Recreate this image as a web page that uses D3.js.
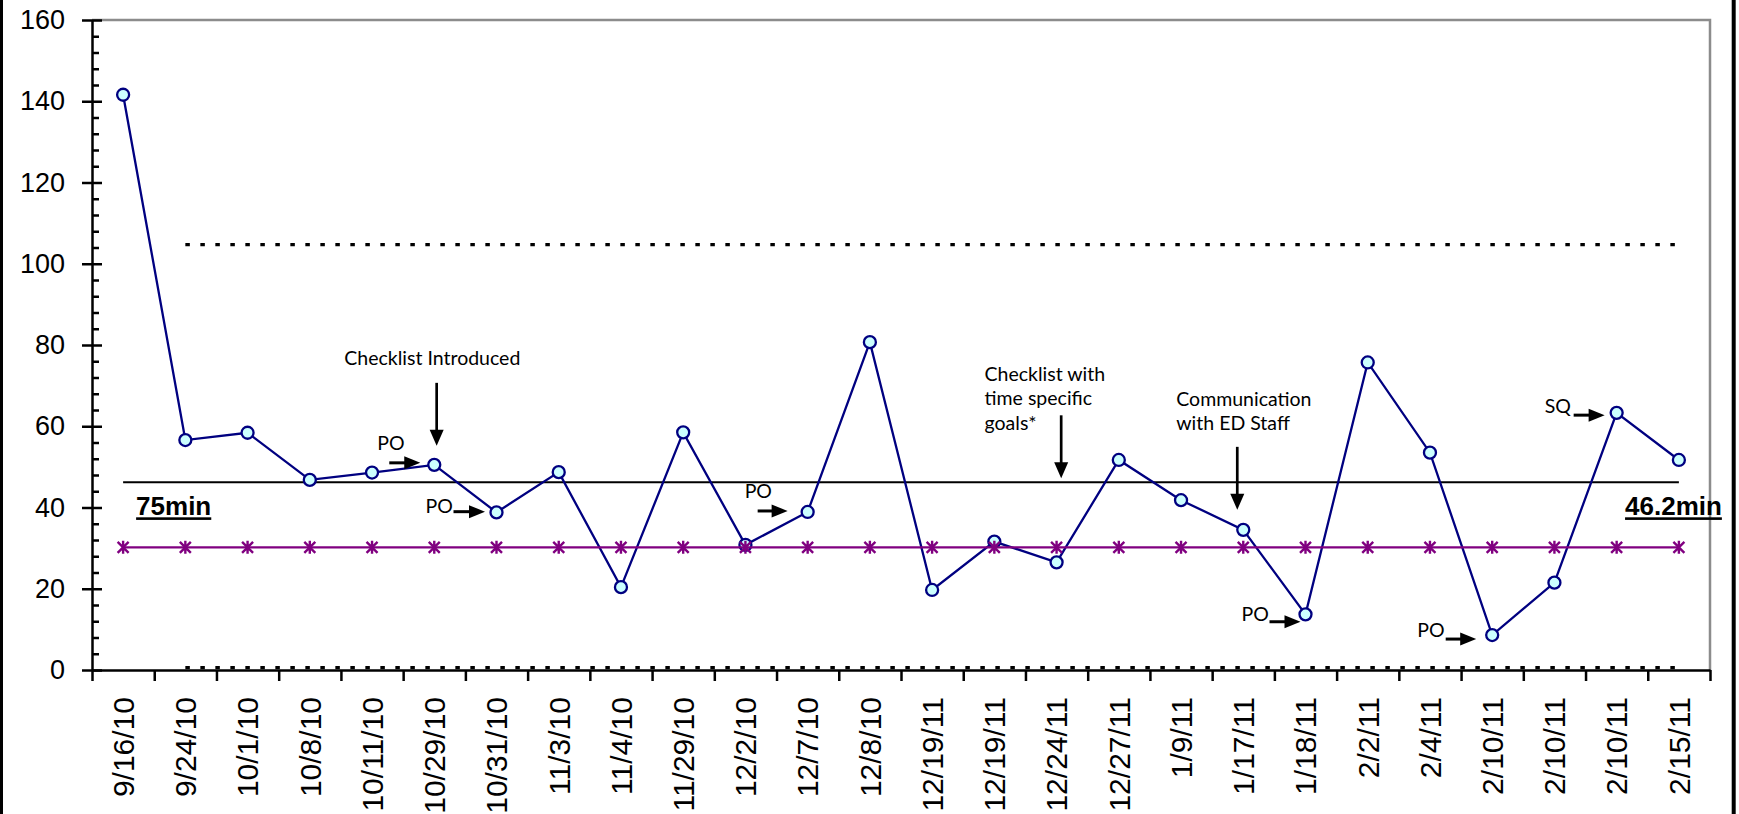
<!DOCTYPE html>
<html>
<head>
<meta charset="utf-8">
<script src="https://cdn.jsdelivr.net/npm/d3@7"></script>
<style>
  body { margin: 0; background: #fff; }
  svg { display: block; }
</style>
</head>
<body>
<svg id="chart" width="1739" height="814"></svg>
<script>
// Consult-to-response times (minutes) per case date
const dates = ["9/16/10","9/24/10","10/1/10","10/8/10","10/11/10","10/29/10","10/31/10","11/3/10","11/4/10",
  "11/29/10","12/2/10","12/7/10","12/8/10","12/19/11","12/19/11","12/24/11","12/27/11","1/9/11","1/17/11",
  "1/18/11","2/2/11","2/4/11","2/10/11","2/10/11","2/10/11","2/15/11"];
const minutes = [141.6,56.6,58.4,46.8,48.6,50.5,38.8,48.7,20.4,58.5,30.8,38.9,80.7,19.7,31.6,26.5,51.7,
  41.8,34.5,13.7,75.7,53.5,8.6,21.5,63.3,51.7];
const meanValue = 46.2;
const goalValue = 30.2;
const upperLimit = 104.7;
const lowerLimit = 0.6;
const yTicks = [0, 20, 40, 60, 80, 100, 120, 140, 160];
const yMinorTicks = d3.range(0, 161, 4).filter(v => v % 20 !== 0);
const meanLabels = ["75min", "46.2min"];

// Event notes with down arrows
const eventNotes = [
  { at: 5, ref: minutes[5], lines: ["Checklist Introduced"], tx: -90, ty: -100, ax: 2.4, ay1: -82, ay2: -19 },
  { at: 15, ref: meanValue, lines: ["Checklist with", "time specific", "goals*"], tx: -72, ty: -101.5, ax: 4.6, ay1: -67, ay2: -4 },
  { at: 18, ref: minutes[18], lines: ["Communication", "with ED Staff"], tx: -67, ty: -124, ax: -6, ay1: -83, ay2: -20 }
];
// Short tags with right arrows
const tagNotes = [
  { at: 5, label: "PO", tx: -57, ty: -15, a1: -45, a2: -14, ay: -2 },
  { at: 6, label: "PO", tx: -71, ty: 1, a1: -43, a2: -11.5, ay: -0.7 },
  { at: 11, label: "PO", tx: -63, ty: -14, a1: -50, a2: -20, ay: -1 },
  { at: 19, label: "PO", tx: -64, ty: 6.4, a1: -36, a2: -5, ay: 7.4 },
  { at: 22, label: "PO", tx: -75, ty: 2, a1: -46.5, a2: -16, ay: 4 },
  { at: 24, label: "SQ", tx: -72, ty: 0.6, a1: -43, a2: -12, ay: 2.3 }
];

const W = 1739, H = 814;
const plotLeft = 92, plotRight = 1710, plotTop = 20, plotBottom = 670;
const axisFont = "'Liberation Sans', Arial, sans-serif";
const noteFont = "Lato, 'Open Sans', sans-serif";

const svg = d3.select("#chart");

const x = d3.scaleBand().domain(d3.range(dates.length)).range([plotLeft, plotRight]);
const xEdge = d3.scaleLinear().domain([0, dates.length]).range([plotLeft, plotRight]);
const y = d3.scaleLinear().domain([0, 160]).range([plotBottom, plotTop]);
const cx = i => x(i) + x.bandwidth() / 2;

// outer frame edges
svg.append("line").attr("x1", 1.5).attr("x2", 1.5).attr("y1", 0).attr("y2", H)
  .attr("stroke", "#000").attr("stroke-width", 3);
svg.append("line").attr("x1", 1733.7).attr("x2", 1733.7).attr("y1", 0).attr("y2", H)
  .attr("stroke", "#000").attr("stroke-width", 4);

// plot area border (top and right)
svg.append("path")
  .attr("d", `M${plotLeft},${plotTop}H${plotRight}V${plotBottom}`)
  .attr("fill", "none").attr("stroke", "#8c8c8c").attr("stroke-width", 2.5);

// control limits
[upperLimit, lowerLimit].forEach(v => {
  svg.append("line")
    .attr("x1", cx(1)).attr("x2", cx(dates.length - 1))
    .attr("y1", y(v)).attr("y2", y(v))
    .attr("stroke", "#000").attr("stroke-width", 3.2)
    .attr("stroke-dasharray", "4.5 10.5");
});

// mean line
svg.append("line")
  .attr("x1", cx(0)).attr("x2", cx(dates.length - 1))
  .attr("y1", y(meanValue)).attr("y2", y(meanValue))
  .attr("stroke", "#000").attr("stroke-width", 2);

// response time series
const line = d3.line().x((d, i) => cx(i)).y(d => y(d));
svg.append("path").datum(minutes)
  .attr("d", line).attr("fill", "none")
  .attr("stroke", "#000080").attr("stroke-width", 2.3);
svg.append("g").selectAll("circle").data(minutes).join("circle")
  .attr("cx", (d, i) => cx(i)).attr("cy", d => y(d)).attr("r", 6)
  .attr("fill", "#ccffff").attr("stroke", "#000080").attr("stroke-width", 2.3);

// goal series with star markers
const goal = dates.map(() => goalValue);
svg.append("path").datum(goal)
  .attr("d", line).attr("fill", "none")
  .attr("stroke", "#800080").attr("stroke-width", 2.2);
svg.append("g").selectAll("path").data(goal).join("path")
  .attr("transform", (d, i) => `translate(${cx(i)},${y(d)})`)
  .attr("d", "M-5.5,-5.5L5.5,5.5M-5.5,5.5L5.5,-5.5M0,-6.5L0,6.5")
  .attr("stroke", "#800080").attr("stroke-width", 2.4).attr("fill", "none");

// y axis with crossing major ticks
const yAxis = svg.append("g").attr("transform", `translate(${plotLeft},0)`)
  .call(d3.axisLeft(y).tickValues(yTicks).tickSizeInner(10).tickSizeOuter(0).tickPadding(17));
yAxis.selectAll(".tick line").attr("x1", 10).attr("stroke-width", 2.5);
yAxis.select(".domain").attr("stroke-width", 2.5);
yAxis.selectAll("text").attr("font-family", axisFont).attr("font-size", 27).attr("fill", "#000");

// y minor ticks (inside)
svg.append("g").attr("transform", `translate(${plotLeft},0)`)
  .call(d3.axisRight(y).tickValues(yMinorTicks).tickSize(7).tickFormat(""))
  .call(g => g.select(".domain").remove())
  .selectAll(".tick line").attr("stroke-width", 2.5);

// x axis: ticks between categories
svg.append("g").attr("transform", `translate(0,${plotBottom})`)
  .call(d3.axisBottom(xEdge).tickValues(d3.range(0, dates.length + 1)).tickSize(11).tickSizeOuter(0).tickFormat(""))
  .call(g => g.select(".domain").attr("stroke-width", 2.5))
  .selectAll(".tick line").attr("stroke-width", 2.5);

// x labels, rotated
svg.append("g").attr("transform", `translate(0,${plotBottom})`)
  .call(d3.axisBottom(x).tickSize(0).tickFormat(i => dates[i]))
  .call(g => g.select(".domain").remove())
  .selectAll("text")
  .attr("transform", "rotate(-90)")
  .attr("x", -27).attr("y", 0).attr("dy", "0.36em")
  .attr("text-anchor", "end")
  .attr("font-family", axisFont).attr("font-size", 30).attr("fill", "#000");

// mean labels
svg.append("text")
  .attr("x", cx(0) + 13).attr("y", y(meanValue) + 33)
  .attr("font-family", axisFont).attr("font-size", 26).attr("font-weight", "bold")
  .attr("text-decoration", "underline").text(meanLabels[0]);
svg.append("text")
  .attr("x", cx(dates.length - 1) + 43).attr("y", y(meanValue) + 33)
  .attr("text-anchor", "end")
  .attr("font-family", axisFont).attr("font-size", 26).attr("font-weight", "bold")
  .attr("text-decoration", "underline").text(meanLabels[1]);

// arrow helpers
function arrowDown(g, x0, y1, y2) {
  g.append("line").attr("x1", x0).attr("x2", x0).attr("y1", y1).attr("y2", y2 - 14)
    .attr("stroke", "#000").attr("stroke-width", 2.7);
  g.append("path").attr("d", `M${x0 - 7},${y2 - 16}L${x0 + 7},${y2 - 16}L${x0},${y2}Z`).attr("fill", "#000");
}
function arrowRight(g, x1, x2, y0) {
  g.append("line").attr("x1", x1).attr("x2", x2 - 14).attr("y1", y0).attr("y2", y0)
    .attr("stroke", "#000").attr("stroke-width", 3);
  g.append("path").attr("d", `M${x2 - 16},${y0 - 6.5}L${x2 - 16},${y0 + 6.5}L${x2},${y0}Z`).attr("fill", "#000");
}

const notesG = svg.append("g");
eventNotes.forEach(n => {
  const px = cx(n.at), py = y(n.ref);
  const t = notesG.append("text").attr("font-family", noteFont).attr("font-size", 19.5).attr("fill", "#000");
  n.lines.forEach((s, k) => {
    t.append("tspan").attr("x", px + n.tx).attr("y", py + n.ty + k * 24.5).text(s);
  });
  arrowDown(notesG, px + n.ax, py + n.ay1, py + n.ay2);
});
tagNotes.forEach(n => {
  const px = cx(n.at), py = y(minutes[n.at]);
  notesG.append("text").attr("x", px + n.tx).attr("y", py + n.ty)
    .attr("font-family", noteFont).attr("font-size", 19.5).attr("fill", "#000").text(n.label);
  arrowRight(notesG, px + n.a1, px + n.a2, py + n.ay);
});
</script>
</body>
</html>
